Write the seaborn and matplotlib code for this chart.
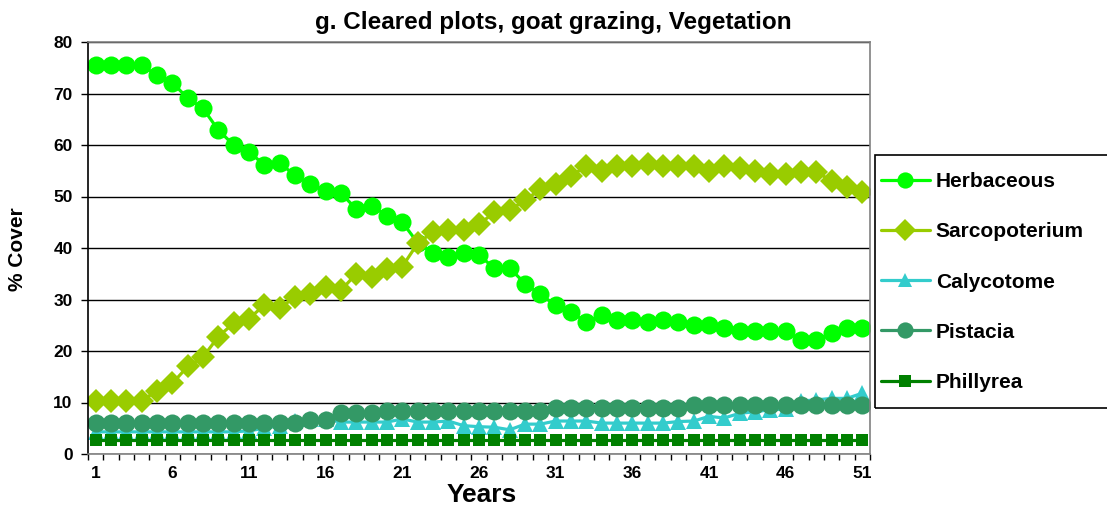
import numpy as np
import pandas as pd
import matplotlib
matplotlib.use("Agg")
import matplotlib.pyplot as plt
from matplotlib.patches import Rectangle
from matplotlib.ticker import FixedLocator
import seaborn as sns

years = list(range(1, 52))

herbaceous = [75.5, 75.5, 75.5, 75.5, 73.5, 72.1, 69.1, 67.1, 62.9, 60.0,
              58.7, 56.1, 56.5, 54.1, 52.4, 51.1, 50.7, 47.5, 48.2, 46.3,
              45.0, 41.0, 39.0, 38.2, 39.0, 38.6, 36.1, 36.1, 33.1, 31.0,
              28.9, 27.6, 25.6, 26.9, 26.0, 26.0, 25.6, 26.0, 25.6, 25.0,
              25.0, 24.4, 23.9, 23.9, 23.9, 23.9, 22.1, 22.1, 23.5, 24.4,
              24.4]
sarcopoterium = [10.3, 10.3, 10.3, 10.3, 12.3, 13.7, 17.0, 18.8, 22.8, 25.4,
                 26.3, 28.9, 28.4, 30.4, 31.0, 32.5, 31.8, 35.0, 34.3, 35.9,
                 36.4, 40.9, 43.1, 43.5, 43.5, 44.6, 46.9, 47.3, 49.3, 51.4,
                 52.4, 53.9, 56.0, 54.9, 56.0, 56.0, 56.4, 56.0, 56.0, 56.0,
                 54.9, 56.0, 55.5, 54.9, 54.4, 54.4, 54.8, 54.8, 53.0, 51.9,
                 50.9]
calycotome = [4.3, 4.3, 4.3, 4.3, 4.3, 4.3, 4.3, 4.3, 4.3, 4.3,
              4.5, 5.0, 5.5, 6.5, 6.8, 6.8, 6.2, 6.2, 6.2, 6.2,
              6.8, 6.2, 6.2, 6.4, 5.5, 5.3, 5.2, 4.7, 5.8, 5.8,
              6.4, 6.4, 6.4, 6.0, 6.0, 6.0, 6.0, 6.0, 6.3, 6.4,
              7.3, 7.0, 7.9, 8.2, 8.6, 8.7, 10.3, 10.5, 10.8, 10.8,
              11.8]
pistacia = [6.0] * 14 + [6.6, 6.6] + [8.0, 8.0, 8.0] + [8.4] * 11 + [8.9] * 9 + [9.6] * 12
phillyrea = [2.7] * 51

series_names = ["Herbaceous", "Sarcopoterium", "Calycotome", "Pistacia", "Phillyrea"]
series_values = [herbaceous, sarcopoterium, calycotome, pistacia, phillyrea]
colors = ["#00FF00", "#99CC00", "#33CCCC", "#339966", "#008000"]
markers = ["o", "D", "^", "o", "s"]
msizes = [13, 12, 11, 13, 9]

y_ticks = [0, 10, 20, 30, 40, 50, 60, 70, 80]
x_ticklabels = [1, 6, 11, 16, 21, 26, 31, 36, 41, 46, 51]

sns.set_theme(style="white")
plt.rcParams["font.family"] = ["Liberation Sans", "DejaVu Sans"]
for k in ["text.color", "axes.labelcolor", "xtick.color", "ytick.color"]:
    plt.rcParams[k] = "black"

W, H = 1107, 505
fig = plt.figure(figsize=(W / 100, H / 100), dpi=100)
L, R, T, B = 88, 870, 42, 454
ax = fig.add_axes([L / W, 1 - B / H, (R - L) / W, (B - T) / H])

for name, vals, c, m, ms in zip(series_names, series_values, colors, markers, msizes):
    df = pd.DataFrame({"Year": years, "Cover": vals})
    sns.lineplot(data=df, x="Year", y="Cover", ax=ax, color=c, linewidth=2.3,
                 marker=m, markersize=ms, markeredgecolor=c, markeredgewidth=0,
                 label=name, legend=False)

ax.set_xlim(0.5, 51.5)
ax.set_ylim(0, 80)
ax.set_yticks(y_ticks)
ax.set_yticklabels([str(v) for v in y_ticks], fontsize=12.5, fontweight="bold")
ax.set_xticks(x_ticklabels)
ax.set_xticklabels([str(v) for v in x_ticklabels], fontsize=12.5, fontweight="bold")
ax.xaxis.set_minor_locator(FixedLocator(np.arange(0.5, 52, 1.0)))
ax.tick_params(axis="y", which="major", direction="out", length=5, width=1, color="black", pad=6, left=True)
ax.tick_params(axis="x", which="major", length=0, pad=9, bottom=True)
ax.tick_params(axis="x", which="minor", direction="out", length=4, width=1, color="black", bottom=True)

ax.yaxis.grid(True, color="black", linewidth=1)
ax.xaxis.grid(False)
ax.set_axisbelow(True)
for s in ["top", "right"]:
    ax.spines[s].set_color("#808080")
    ax.spines[s].set_linewidth(1.2)
ax.spines["left"].set_color("black")
ax.spines["left"].set_linewidth(1.2)
ax.spines["bottom"].set_color("#808080")
ax.spines["bottom"].set_linewidth(1.2)

ax.set_xlabel("Years", fontsize=19, fontweight="bold")
ax.xaxis.set_label_coords((482 - L) / (R - L), (B - 495) / (B - T))
ax.xaxis.label.set_va("center")
ax.set_ylabel("% Cover", fontsize=15, fontweight="bold")
ax.yaxis.set_label_coords((18 - L) / (R - L), (B - 249) / (B - T))
ax.yaxis.label.set_va("center")
ax.yaxis.label.set_ha("center")

fig.suptitle("g. Cleared plots, goat grazing, Vegetation", x=553 / W, y=1 - 23 / H,
             va="center", fontsize=17.5, fontweight="bold")

handles, labels = ax.get_legend_handles_labels()
leg = fig.legend(handles, labels, loc="upper left",
                 bbox_to_anchor=(880.7 / W, 1 - 172 / H),
                 frameon=False, borderpad=0, borderaxespad=0,
                 handlelength=2.35, handletextpad=0.3, labelspacing=1.5,
                 prop={"size": 15, "weight": "bold"}, markerscale=0.9)
fig.add_artist(Rectangle((875 / W, 1 - 408 / H), (1112 - 875) / W, (408 - 155) / H,
                         transform=fig.transFigure, fill=False, edgecolor="black",
                         linewidth=1.2, clip_on=False))

fig.savefig("out.png", dpi=100)
